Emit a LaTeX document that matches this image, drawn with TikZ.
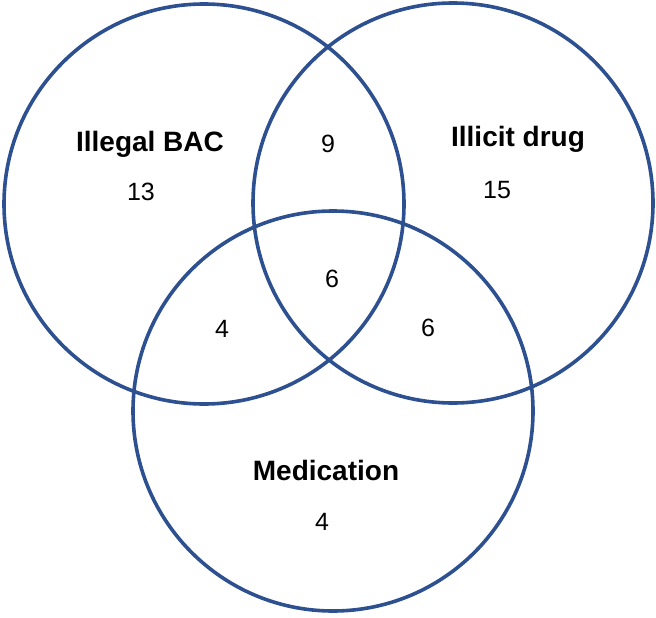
\documentclass[tikz,border=0pt]{standalone}
\usepackage{fontspec}
\setmainfont{Liberation Sans}
\usepackage{tikz}
\definecolor{vennblue}{RGB}{45,80,145}
\tikzset{
    set/.style={circle, draw=vennblue, line width=3.6pt, minimum size=400pt, inner sep=0pt},
    setname/.style={font=\fontsize{28}{32}\selectfont\bfseries, anchor=base},
    count/.style={font=\fontsize{25}{28}\selectfont, anchor=base},
}

\begin{document}
\begin{tikzpicture}[x=1pt, y=-1pt]
        \useasboundingbox (0,0) rectangle (656,618);

        % the three sets
        \node[set] (bac) at (204,204) {};
        \node[set] (drug) at (453,203) {};
        \node[set] (med) at (333,411) {};

        \node[setname] (bacname) at (150,151) {Illegal BAC};
        \node[count] (nbac) at (141,200) {13};

        \node[setname] (drugname) at (518,146) {Illicit drug};
        \node[count] (ndrug) at (497,198) {15};

        \node[setname] (medname) at (326,480) {Medication};
        \node[count] (nmed) at (322,530) {4};

        % overlaps
        \node[count] (nbacdrug) at (328,152) {9};
        \node[count] (nall) at (332,287) {6};
        \node[count] (nbacmed) at (222,337) {4};
        \node[count] (ndrugmed) at (428,336) {6};
    \end{tikzpicture}
\end{document}
